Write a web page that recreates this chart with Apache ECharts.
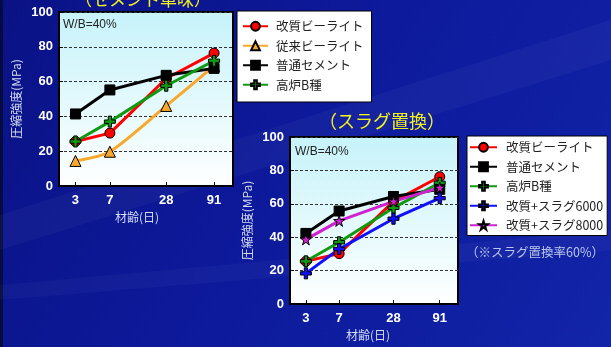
<!DOCTYPE html>
<html>
<head>
<meta charset="utf-8">
<script src="https://cdn.jsdelivr.net/npm/echarts@6/dist/echarts.min.js"></script>
<style>
  html, body { margin: 0; padding: 0; background: #0b168f; }
  #chart { width: 611px; height: 347px; }
</style>
</head>
<body>
<div id="chart"></div>
<script>
// Curing age (days) and compressive strength (MPa)
const ages = [3, 7, 28, 91];
const yTicks = [0, 20, 40, 60, 80, 100];

// Cement only
const kaishitsu1 = [25.6, 30.4, 61.8, 76.4];
const juurai1 = [14.4, 19.7, 46.0, 69.0];
const futsuu1 = [41.4, 55.2, 63.6, 67.6];
const kouro1 = [25.6, 37.0, 57.6, 72.0];

// Slag replacement
const kaishitsu2 = [25.6, 30.2, 61.5, 76.2];
const futsuu2 = [42.3, 55.7, 64.4, 68.7];
const kouro2 = [25.6, 37.0, 57.6, 72.6];
const slag6000 = [18.4, 33.0, 51.1, 63.4];
const slag8000 = [38.7, 49.8, 61.5, 69.7];

const NAME_KAI = '改質ビーライト';
const NAME_JUU = '従来ビーライト';
const NAME_FUT = '普通セメント';
const NAME_KOU = '高炉B種';
const NAME_S6 = '改質+スラグ6000';
const NAME_S8 = '改質+スラグ8000';

const PLUS = 'path://M3.5,0 L6.5,0 L6.5,3.5 L10,3.5 L10,6.5 L6.5,6.5 L6.5,10 L3.5,10 L3.5,6.5 L0,6.5 L0,3.5 L3.5,3.5 Z';
const STAR = 'path://M5,0 L6.2,3.6 L10,3.6 L6.9,5.8 L8.1,9.5 L5,7.2 L1.9,9.5 L3.1,5.8 L0,3.6 L3.8,3.6 Z';

const CJK = '"Noto Sans CJK JP", "Noto Sans", sans-serif';
const NUM = '"Liberation Sans", Arial, sans-serif';

const pts = vals => ages.map((a, i) => [a, vals[i]]);

function line(name, vals, idx, color, symbol, size, extra) {
  return Object.assign({
    type: 'line', name: name, xAxisIndex: idx, yAxisIndex: idx,
    data: pts(vals),
    symbol: symbol, symbolSize: size,
    lineStyle: { color: color, width: 3 },
    itemStyle: { color: color, borderColor: '#000', borderWidth: 1 },
    emphasis: { disabled: true },
    animation: false
  }, extra || {});
}

const plotBg = new echarts.graphic.LinearGradient(0, 0, 0, 1, [
  { offset: 0, color: '#c6f3fa' },
  { offset: 1, color: '#ffffff' }
]);

function grid(left, top, width, height) {
  return {
    left: left, top: top, width: width, height: height,
    show: true, backgroundColor: plotBg,
    borderColor: '#000', borderWidth: 2
  };
}

function xAxis(idx, nameShift) {
  return {
    type: 'log', logBase: 10, gridIndex: idx, min: 2, max: 145,
    name: '材齢(日)', nameLocation: 'middle', nameGap: 25,
    nameTextStyle: { color: '#d4dcf6', fontSize: 12, fontFamily: CJK, padding: [0, nameShift, 0, 0] },
    axisLine: { show: true, lineStyle: { color: '#000', width: 2 } },
    axisTick: { show: true, inside: true, length: 4, customValues: ages, lineStyle: { color: '#000' } },
    axisLabel: { customValues: ages, color: '#fff', fontWeight: 'bold', fontSize: 13, fontFamily: NUM, margin: 8 },
    minorTick: { show: false },
    splitLine: { show: false }
  };
}

function yAxis(idx) {
  return {
    type: 'value', gridIndex: idx, min: 0, max: 100, interval: 20,
    name: '圧縮強度(MPa)', nameLocation: 'middle', nameGap: 37, nameRotate: 90,
    nameTextStyle: { color: '#d4dcf6', fontSize: 12, fontFamily: CJK },
    axisLine: { show: true, lineStyle: { color: '#000', width: 2 } },
    axisTick: { show: true, inside: true, length: 4, lineStyle: { color: '#000' } },
    axisLabel: { customValues: yTicks, color: '#fff', fontWeight: 'bold', fontSize: 13, fontFamily: NUM, margin: 6 },
    splitLine: { show: true, lineStyle: { color: '#333', width: 1, type: [3, 2] } }
  };
}

function legend(names, left, top, padding, itemWidth, textGap) {
  return {
    show: true, data: names, orient: 'vertical',
    left: left, top: top, padding: padding,
    itemWidth: itemWidth, itemHeight: 11, itemGap: 7,
    backgroundColor: '#fff', borderColor: '#000', borderWidth: 1, borderRadius: 0,
    selectedMode: false,
    textStyle: { color: '#222', fontSize: 12.5, lineHeight: 11, fontFamily: CJK, padding: [0, 0, 0, textGap] }
  };
}

const chart = echarts.init(document.getElementById('chart'), null, { renderer: 'canvas' });

chart.setOption({
  animation: false,
  backgroundColor: new echarts.graphic.LinearGradient(0, 0, 1, 1, [
    { offset: 0, color: '#0a1285' },
    { offset: 0.5, color: '#0d1a9c' },
    { offset: 1, color: '#1224a8' }
  ]),
  graphic: [
    // dark left edge
    { type: 'rect', shape: { x: 0, y: 0, width: 3, height: 347 }, style: { fill: '#050a40' }, z: -1 },
    // faint diagonal sheen across the backdrop
    { type: 'polygon', shape: { points: [[611, 20], [611, 60], [0, 250], [0, 215]] }, style: { fill: 'rgba(255,255,255,0.035)' }, z: -1 },
    { type: 'polygon', shape: { points: [[611, 230], [611, 250], [0, 300], [0, 285]] }, style: { fill: 'rgba(255,255,255,0.03)' }, z: -1 },
    // panel titles
    { type: 'text', style: { text: '（セメント単味）', fill: '#f2f21e', font: '17px ' + CJK, x: 143, y: 0, align: 'center', verticalAlign: 'middle' } },
    { type: 'text', style: { text: '（スラグ置換）', fill: '#f2f21e', font: '18px ' + CJK, x: 382, y: 121, align: 'center', verticalAlign: 'middle' } },
    // mix condition labels
    { type: 'text', style: { text: 'W/B=40%', fill: '#222', font: '12px ' + NUM, x: 63, y: 25, verticalAlign: 'middle' }, z: 10 },
    { type: 'text', style: { text: 'W/B=40%', fill: '#222', font: '12px ' + NUM, x: 295, y: 152, verticalAlign: 'middle' }, z: 10 },
    // replacement ratio note
    { type: 'text', style: { text: '（※スラグ置換率60%）', fill: '#b8c6ee', font: '12.5px ' + CJK, x: 535, y: 252, align: 'center', verticalAlign: 'middle' } }
  ],
  grid: [grid(59, 12, 174, 174), grid(290, 137, 168, 174)],
  xAxis: [xAxis(0, 18), xAxis(1, 12)],
  yAxis: [yAxis(0), yAxis(1)],
  legend: [
    legend([NAME_KAI, NAME_JUU, NAME_FUT, NAME_KOU], 237, 11, [9, 8, 11, 5], 25, 3),
    legend([NAME_KAI, NAME_FUT, NAME_KOU, NAME_S6, NAME_S8], 467, 136, [5, 4, 4, 2], 27, 4)
  ],
  series: [
    line(NAME_KAI, kaishitsu1, 0, '#ff0000', 'circle', 10),
    line(NAME_JUU, juurai1, 0, '#f8a82a', 'triangle', 11, { smooth: 0.25 }),
    line(NAME_FUT, futsuu1, 0, '#000000', 'rect', 10),
    line(NAME_KOU, kouro1, 0, '#0f9a12', PLUS, 11),
    line(NAME_KAI, kaishitsu2, 1, '#ff0000', 'circle', 10),
    line(NAME_FUT, futsuu2, 1, '#000000', 'rect', 10),
    line(NAME_KOU, kouro2, 1, '#0f9a12', PLUS, 11),
    line(NAME_S6, slag6000, 1, '#1010ff', PLUS, 11),
    line(NAME_S8, slag8000, 1, '#d020d0', STAR, 11)
  ]
});
</script>
</body>
</html>
